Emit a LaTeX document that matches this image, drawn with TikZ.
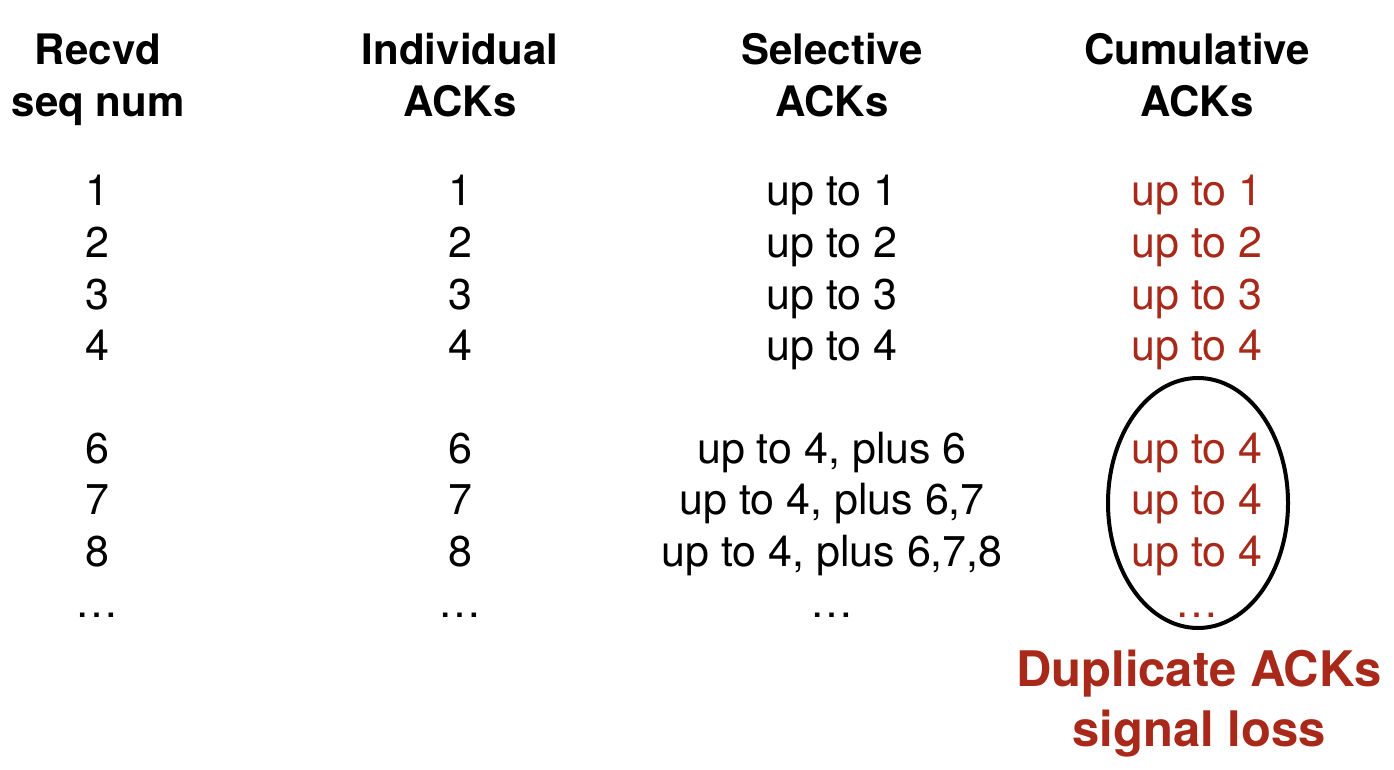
\documentclass[tikz,border=0pt]{standalone}
\usepackage{fontspec}
\setmainfont{TeX Gyre Heros}
\definecolor{lossred}{RGB}{168,41,26}
\tikzset{
  cell/.style={anchor=base, inner sep=0pt, font=\fontsize{43}{51.6}\selectfont},
  head/.style={cell, font=\fontsize{42}{50}\selectfont\bfseries},
  cum/.style={cell, text=lossred},
  note/.style={anchor=base, inner sep=0pt, text=lossred, font=\fontsize{49}{59}\selectfont\bfseries}
}
\begin{document}
\begin{tikzpicture}[x=1pt,y=-1pt]
    \useasboundingbox (0,0) rectangle (1394,770);

    % column headings
    \node[head] (hseqA) at (98,65) {Recvd};
    \node[head] (hseqB) at (98,117) {seq num};
    \node[head] (hindA) at (460,65) {Individual};
    \node[head] (hindB) at (460,117) {ACKs};
    \node[head] (hselA) at (832,65) {Selective};
    \node[head] (hselB) at (832,117) {ACKs};
    \node[head] (hcumA) at (1197,65) {Cumulative};
    \node[head] (hcumB) at (1197,117) {ACKs};

    % rows before the loss
    \foreach \n/\y in {1/206, 2/257, 3/309, 4/360} {
        \node[cell] (seq\n) at (97,\y) {\n};
        \node[cell] (ind\n) at (460,\y) {\n};
        \node[cell] (sel\n) at (832,\y) {up to \n};
        \node[cum] (cum\n) at (1197,\y) {up to \n};
    }

    % rows after the loss of 5
    \node[cell] (seq6) at (97,463) {6};
    \node[cell] (ind6) at (460,463) {6};
    \node[cell] (sel6) at (832,463) {up to 4, plus 6};
    \node[cum] (cum6) at (1197,463) {up to 4};
    \node[cell] (seq7) at (97,514) {7};
    \node[cell] (ind7) at (460,514) {7};
    \node[cell] (sel7) at (832,514) {up to 4, plus 6,7};
    \node[cum] (cum7) at (1197,514) {up to 4};
    \node[cell] (seq8) at (97,566) {8};
    \node[cell] (ind8) at (460,566) {8};
    \node[cell] (sel8) at (832,566) {up to 4, plus 6,7,8};
    \node[cum] (cum8) at (1197,566) {up to 4};

    \node[cell] (seqdots) at (97,617) {…};
    \node[cell] (inddots) at (460,617) {…};
    \node[cell] (seldots) at (832,617) {…};
    \node[cum] (cumdots) at (1197,617) {…};

    % duplicates
    \draw[line width=4pt] (1198,503) ellipse [x radius=90pt, y radius=125pt];
    \node[note] (dupA) at (1199,686) {Duplicate ACKs};
    \node[note] (dupB) at (1199,746) {signal loss};
\end{tikzpicture}
\end{document}
